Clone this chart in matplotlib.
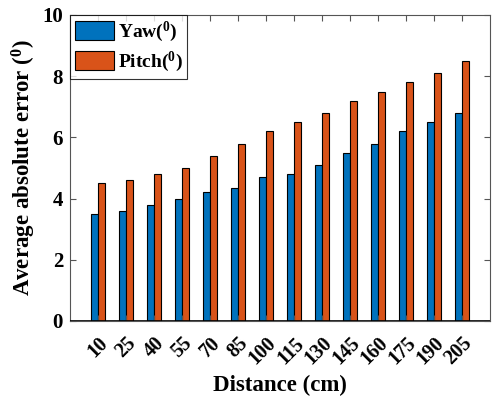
import numpy as np
import matplotlib
matplotlib.use("Agg")
import matplotlib.pyplot as plt

distances = ["10", "25", "40", "55", "70", "85", "100", "115", "130", "145", "160", "175", "190", "205"]
yaw = [3.5, 3.6, 3.8, 4.0, 4.2, 4.35, 4.7, 4.8, 5.1, 5.5, 5.8, 6.2, 6.5, 6.8]
pitch = [4.5, 4.6, 4.8, 5.0, 5.4, 5.8, 6.2, 6.5, 6.8, 7.2, 7.5, 7.8, 8.1, 8.5]

plt.rcParams["font.family"] = ["Liberation Serif", "DejaVu Serif"]
plt.rcParams["font.weight"] = "bold"
plt.rcParams["mathtext.fontset"] = "custom"
plt.rcParams["mathtext.rm"] = "Liberation Serif:bold"
plt.rcParams["mathtext.it"] = "Liberation Serif:bold"
plt.rcParams["mathtext.bf"] = "Liberation Serif:bold"

fig = plt.figure(figsize=(4.92, 3.99), dpi=100)
ax = fig.add_axes([70 / 492, 78 / 399, 420 / 492, 306 / 399])

x = np.arange(1, len(distances) + 1)
w = 0.25
ax.bar(x - 0.14, yaw, w, color="#0072BD", edgecolor="black", linewidth=0.8,
       label=r"Yaw($^{0}$)")
ax.bar(x + 0.14, pitch, w, color="#D95319", edgecolor="black", linewidth=0.8,
       label=r"Pitch($^{0}$)")
ax.axhline(0, color="black", linewidth=1.2, zorder=3)

ax.set_xlim(0, 15)
ax.set_ylim(0, 10)
ax.set_xticks(x)
ax.set_xticklabels(distances, rotation=45, ha="right", va="top",
                   rotation_mode="anchor", fontsize=14.5, fontweight="bold")
ax.set_yticks([0, 2, 4, 6, 8, 10])
ax.tick_params(axis="y", labelsize=15, pad=5)
ax.tick_params(direction="in", length=4, top=True, right=True,
               color="#555555", width=0.8)
ax.tick_params(axis="x", pad=9)
for s in ax.spines.values():
    s.set_color("#555555")
    s.set_linewidth(0.8)

ax.set_xlabel("Distance (cm)", fontsize=16.5, fontweight="bold", labelpad=4)
ax.set_ylabel(r"Average absolute error ($^{0}$)", fontsize=16.5, fontweight="bold", labelpad=3)

leg = ax.legend(loc="upper left", fontsize=14, frameon=True, fancybox=False,
                borderaxespad=0, handlelength=2.0, handleheight=1.1,
                handletextpad=0.2, labelspacing=0.3, borderpad=0.25)
leg.get_frame().set_edgecolor("black")
leg.get_frame().set_linewidth(0.8)

fig.savefig("out.png", dpi=100)
